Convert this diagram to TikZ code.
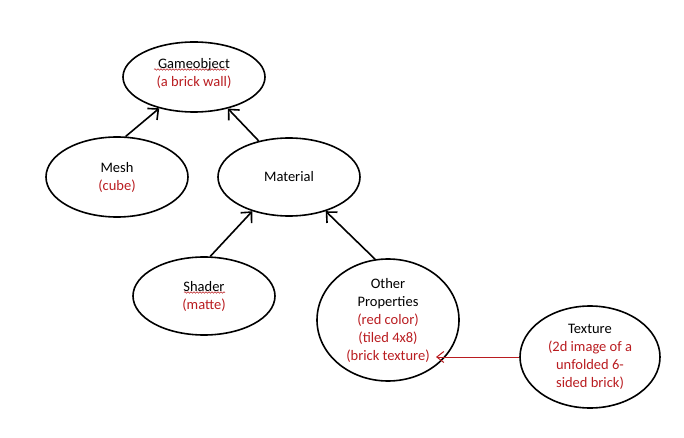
\documentclass[tikz,border=0pt]{standalone}
\usepackage{fontspec}
\setmainfont{Carlito}
\usepackage{tikz}
\usetikzlibrary{shapes.geometric,arrows.meta,decorations.pathmorphing}
\usepackage{xcolor}
\definecolor{wordred}{RGB}{185,28,32}

\begin{document}
\begin{tikzpicture}[x=1pt, y=-1pt,
    blob/.style={ellipse, draw=black, line width=1.6pt, inner sep=0pt,
        minimum width=142pt, minimum height=78pt, align=center,
        font=\fontsize{14.5}{18}\selectfont},
    arr/.style={-{Straight Barb[length=8pt, width=15pt, line width=1.6pt]}, line width=1.6pt},
    redarr/.style={-{Straight Barb[length=7pt, width=11pt]}, wordred, line width=1pt},
    squiggle/.style={wordred, line width=0.5pt, decorate,
        decoration={snake, amplitude=0.8pt, segment length=3pt}}
]
    \useasboundingbox (0,0) rectangle (684,438);

    % Ellipses
    \node[blob, minimum height=70pt] (game) at (194,77)
        {Gameobject\\\textcolor{wordred}{(a brick wall)}\\[-9pt]\mbox{}};
    \node[blob, minimum height=80pt] (mesh) at (117,177)
        {Mesh\\\textcolor{wordred}{(cube)}};
    \node[blob] (material) at (289,177) {Material};
    \node[blob] (shader) at (204,296)
        {Shader\\\textcolor{wordred}{(matte)}};
    \node[blob, minimum height=122pt] (other) at (388,320)
        {Other\\Properties\\\textcolor{wordred}{(red color)}\\
         \textcolor{wordred}{(tiled 4x8)}\\\textcolor{wordred}{(brick texture)}};
    \node[blob, minimum width=140pt, minimum height=102pt] (texture) at (590,357)
        {Texture\\\textcolor{wordred}{(2d image of a}\\
         \textcolor{wordred}{unfolded 6-}\\\textcolor{wordred}{sided brick)}};

    % Arrows
    \draw[arr] (mesh.78) -- (game.222);
    \draw[arr] (material.130) -- (game.317);
    \draw[arr] (shader.81) -- (material.223);
    \draw[arr] (other.102) -- (material.317);

    % Texture feeds the brick texture line
    \coordinate (bricktex) at (436,357);
    \draw[redarr] (texture.west) -- (bricktex);

    % Spell check marks
    \draw[squiggle] (154,69.5) -- (227,69.5);
    \draw[squiggle] (184,292.5) -- (225,292.5);
\end{tikzpicture}
\end{document}
